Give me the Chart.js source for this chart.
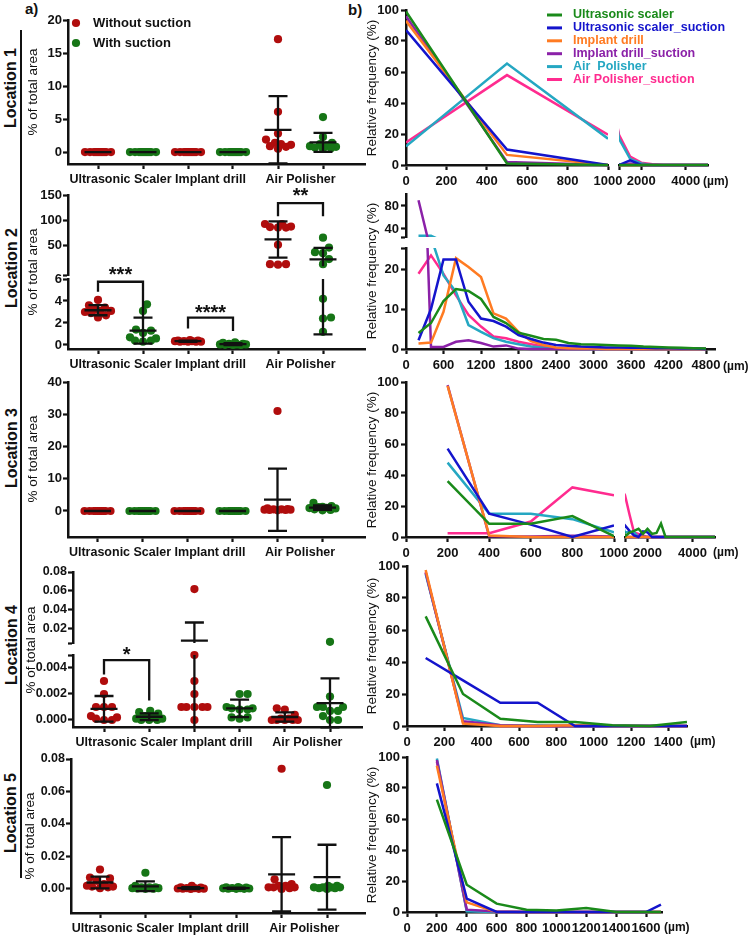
<!DOCTYPE html>
<html><head><meta charset="utf-8">
<script src="https://cdn.jsdelivr.net/npm/chart.js@4.4.1/dist/chart.umd.min.js"></script>
<style>
html,body{margin:0;padding:0;background:#fff;}
#page{position:relative;width:749px;height:937px;overflow:hidden;background:#fff;font-family:"Liberation Sans",Arial,sans-serif;color:#111;}
#page canvas{position:absolute;}
.loc{position:absolute;font-weight:bold;font-size:16px;white-space:nowrap;transform:translate(-50%,-50%) rotate(-90deg);}
.plab{position:absolute;font-weight:bold;font-size:15px;line-height:15px;}
.vline{position:absolute;left:19.5px;top:30px;width:2.5px;height:848px;background:#111;}
</style></head><body><div id="page">
<div class="plab" style="left:25px;top:1px;">a)</div>
<div class="plab" style="left:348px;top:2px;">b)</div>
<div class="vline"></div>
<div class="loc" style="left:11px;top:88px;">Location 1</div>
<div class="loc" style="left:12px;top:268px;">Location 2</div>
<div class="loc" style="left:12px;top:448px;">Location 3</div>
<div class="loc" style="left:12px;top:645px;">Location 4</div>
<div class="loc" style="left:11px;top:813px;">Location 5</div>
</div>
<script>
// ======================= DATA =======================
const instruments = ['Ultrasonic Scaler', 'Implant drill', 'Air Polisher'];
const conditions = ['Without suction', 'With suction'];

// a) % of total area, 10 samples per instrument: [Ultrasonic Scaler, Implant drill, Air Polisher]
const loc1_without = [[0,0,0,0,0,0,0,0,0,0],[0,0,0,0,0,0,0,0,0,0],[17.1,6.1,2.8,1.9,1.4,1.2,1.1,0.9,0.8,0.5]];
const loc1_with    = [[0,0,0,0,0,0,0,0,0,0],[0,0,0,0,0,0,0,0,0,0],[5.3,2.3,1.4,1.2,1.0,0.9,0.8,0.7,0.6,0.5]];
const loc2_without = [[4.1,3.6,3.4,3.2,3.1,3.1,3.0,2.9,2.7,2.5],[0.45,0.4,0.4,0.35,0.35,0.35,0.3,0.3,0.3,0.3],[93,93,88,87,86,86,52,14,14,13]];
const loc2_with    = [[3.7,3.1,1.4,1.3,1.1,0.7,0.6,0.4,0.4,0.3],[0.25,0.2,0.1,0.1,0.05,0.05,0.05,0.02,0.01,0],[66,46.7,37.5,35.6,24,14,4.2,2.5,2.4,1.2]];
const loc3_without = [[0,0,0,0,0,0,0,0,0,0],[0,0,0,0,0,0,0,0,0,0],[31,0.8,0.6,0.5,0.5,0.4,0.4,0.3,0.3,0.2]];
const loc3_with    = [[0,0,0,0,0,0,0,0,0,0],[0,0,0,0,0,0,0,0,0,0],[2.5,1.5,1.3,1.2,1.0,0.9,0.8,0.5,0.3,0.2]];
const loc4_without = [[0.003,0.002,0.001,0.001,0.001,0.0003,0.0002,0.0001,0,0],[0.062,0.005,0.003,0.002,0.001,0.001,0.001,0.001,0.001,0],[0.0009,0.0008,0.0004,0.0001,0.0001,0,0,0,0,0]];
const loc4_with    = [[0.0007,0.0006,0.0005,0.0003,0.0002,0.0001,0.0001,0,0,0],[0.002,0.002,0.001,0.0009,0.0009,0.0008,0.0008,0.0002,0.0002,0.0001],[0.0065,0.0018,0.001,0.001,0.001,0.0007,0.0007,0.0003,0,0]];
const loc5_without = [[0.012,0.007,0.0065,0.005,0.003,0.002,0.0015,0.0015,0.001,0.0005],[0.002,0.001,0.0008,0.0005,0.0005,0.0003,0.0002,0.0002,0.0001,0],[0.074,0.006,0.003,0.002,0.002,0.001,0.001,0.001,0.0005,0]];
const loc5_with    = [[0.01,0.002,0.001,0.001,0.001,0.0005,0.0005,0.0003,0.0002,0.0001],[0.0012,0.001,0.0008,0.0006,0.0005,0.0004,0.0003,0.0002,0.0001,0.0001],[0.064,0.002,0.002,0.001,0.001,0.001,0.001,0.0005,0.0005,0]];

// significance brackets (values in data units)
const loc2_sig = [
  {from:0, to:1, top:5.75, left:4.85, right:2.3, label:'***', at:6.82, seg:1},
  {from:2, to:3, top:2.48, left:1.5, right:1.27, label:'****', at:3.36, seg:1},
  {from:4, to:5, top:134, left:108, right:108, label:'**', at:157, seg:0}
];
const loc4_sig = [{from:0, to:1, top:0.0046, left:0.0035, right:0.0015, label:'*', at:0.0054, seg:1}];

// a) y tick labels
const loc1_yticks = [0,5,10,15,20];
const loc2_yticks_high = [50,100,150];
const loc2_yticks_low = [0,2,4,6];
const loc3_yticks = [0,10,20,30,40];
const loc4_yticks_high = [0.02,0.04,0.06,0.08];
const loc4_yticks_low = [0,0.002,0.004];
const loc5_yticks = [0,0.02,0.04,0.06,0.08];

// b) relative frequency (%) by particle size (µm)
const seriesNames = ['Ultrasonic scaler','Ultrasonic scaler_suction','Implant drill','Implant drill_suction','Air  Polisher','Air Polisher_suction'];

const b1_size = [0,500,1000,1500,2000,2500,3000,3500,4000,4500,5000];
const b1_US  = [99,1,0,0,0,0,0,0,0,0,0];
const b1_USs = [87,10,0,3,0,0,0,0,0,0,0];
const b1_ID  = [93,6.5,0,0,0,0,0,0,0,0,0];
const b1_IDs = [96,2,0,1,0,0,0,0,0,0,0];
const b1_AP  = [12,65.5,17,4,1,0,0,0,0,0,0];
const b1_APs = [14.5,58,19.5,5.5,1.5,0.5,0,0,0,0,0];

const b2_size = [200,400,600,800,1000,1200,1400,1600,1800,2000,2200,2400,2600,2800,3000,3200,3400,3600,3800,4000,4200,4400,4600,4800];
const b2_US  = [4,6.5,12,15,14.5,12.5,8,6.5,4.1,3.3,2.5,2.3,1.5,1.2,1.1,1.0,0.9,0.8,0.6,0.5,0.4,0.3,0.2,0.1];
const b2_USs = [2.2,10,22.4,22.4,11.8,7.6,7,5.6,3.5,2.5,1.6,1,0.8,0.6,0.5,0.4,0.4,0.3,0.3,0.2,0.2,0.1,0.1,0];
const b2_ID  = [1.4,1.6,9.3,22.7,20.5,18,8.9,7.6,4.3,2,1,0.4,0.2,0.1,0.1,0,0,0,0,0,0,0,0,0];
const b2_IDs = [90,0.5,0.5,1.8,2.2,1.5,0.6,0.9,0.1,0,0,0,0,0,0,0,0,0,0,0,0,0,0,0];
const b2_AP  = [28,28,18.4,14.3,6,4.3,2.7,1.8,1.2,0.6,0.3,0.1,0,0,0,0,0,0,0,0,0,0,0,0];
const b2_APs = [18.8,23.4,18.8,13.4,8.5,5.6,3.1,2.7,1.8,1.2,0.6,0.2,0,0,0,0,0,0,0,0,0,0,0,0];

const b3_size = [200,400,600,800,1000,1200,1400,1600,1800,2000,2200,2400,2600,2800,3000,4000,5000];
const b3_US  = [36,8.5,8.5,13.5,0.5,2.8,4,5.3,2,5.3,2,2.6,8.7,0,0,0,0];
const b3_USs = [57,15,8,0,7.5,4,1,0,3.6,3,0,0,0,0,0,0,0];
const b3_ID  = [97.5,1,0,0,0,0,0,0,0,0,0,0,0,0,0,0,0];
const b3_IDs = [98,0.5,0.3,0.8,0.3,0,0,0,0,0,0,0,0,0,0,0,0];
const b3_AP  = [48,15,15,11.5,3,3,3,0,0,0,0,0,0,0,0,0,0];
const b3_APs = [2.5,2.5,10,32,27,14.5,3,2,1,0,0,0,0,0,0,0,0];

const b4_size = [100,300,500,700,900,1100,1300,1500];
const b4_US  = [68.5,20,4.5,2.5,2.5,0.4,0,2.5];
const b4_USs = [42.5,28.5,14.5,14.5,0,0,0,0];
const b4_ID  = [97.5,1.5,0,0,0.5,0,0,0];
const b4_IDs = [96,3,0.5,0,0,0,0,0];
const b4_AP  = [95,5,0.5,0.3,0,0,0,0];
const b4_APs = [96,2.5,0,0,0,0,0,0];

const b5_size = [200,400,600,800,1000,1200,1400,1600,1700];
const b5_US  = [72.5,17.6,5.4,1.5,0.9,2.6,0,0,0];
const b5_USs = [83,8.6,0,0,0,0,0,0,4.7];
const b5_ID  = [94.4,6.2,0,0,0,0,0,0,0];
const b5_IDs = [98,1.5,0.4,0,0,0,0,0,0];
const b5_AP  = [99,0.5,0,0,0,0,0,0,0];
const b5_APs = [97,1,0,0,0,0,0,0,0];

// b) tick labels
const freq_yticks = [0,20,40,60,80,100];
const b1_xticks = [0,200,400,600,800,1000];
const b1_xticks_right = [2000,4000];
const b2_xticks = [0,600,1200,1800,2400,3000,3600,4200,4800];
const b2_yticks_high = [40,80];
const b2_yticks_low = [0,10,20];
const b3_xticks = [0,200,400,600,800,1000];
const b3_xticks_right = [2000,4000];
const b4_xticks = [0,200,400,600,800,1000,1200,1400];
const b5_xticks = [0,200,400,600,800,1000,1200,1400,1600];

// ======================= STYLE / HELPERS =======================
const INK = '#111111';
const FONT = '"Liberation Sans", Arial, sans-serif';
const RED_DOT = '#b00d0d', GREEN_DOT = '#167516';
const DOT_R = 4.1;
const seriesColors = ['#1a8a1a','#1414cc','#ff7b22','#8b21a8','#25a7c2','#ff2b8f'];
const page = document.getElementById('page');
const EXTRAS = new Map();

Chart.defaults.font.family = FONT;
Chart.defaults.color = INK;
Chart.defaults.animation = false;
Chart.defaults.responsive = false;
Chart.defaults.devicePixelRatio = 1;
Chart.defaults.plugins.legend.display = false;
Chart.defaults.plugins.tooltip.enabled = false;

function mkCanvas(r) {
  const c = document.createElement('canvas');
  c.width = r.w; c.height = r.h;
  c.style.left = r.x + 'px'; c.style.top = r.y + 'px';
  c.style.width = r.w + 'px'; c.style.height = r.h + 'px';
  page.appendChild(c);
  return c;
}
function meanSd(a) {
  const n = a.length, m = a.reduce((s, v) => s + v, 0) / n;
  const v = a.reduce((s, x) => s + (x - m) * (x - m), 0) / (n - 1);
  return {mean: m, sd: Math.sqrt(v)};
}
function axis(o) {
  const vals = o.ticks.slice(), blank = o.blank || [];
  return {
    type: 'linear', display: o.display !== false, min: o.min, max: o.max, bounds: 'data',
    afterBuildTicks: s => { s.ticks = vals.map(v => ({value: v})); },
    afterFit: s => {
      if (o.horizontal) s.height = o.size; else s.width = o.size;
      s.paddingLeft = s.paddingRight = s.paddingTop = s.paddingBottom = 0;
    },
    ticks: {autoSkip: false, maxRotation: 0, minRotation: 0, padding: o.pad, color: INK,
      font: {family: FONT, size: o.fontSize || 13, weight: 'bold'},
      callback: v => blank.includes(v) ? '' : o.fmt(v)},
    grid: {display: true, drawOnChartArea: false, drawTicks: true, tickLength: 5, tickWidth: 2.2,
      tickColor: o.tickColor || INK, color: INK},
    border: {display: true, color: INK, width: 2.5}
  };
}

const extrasPlugin = {
  id: 'extras',
  afterDatasetsDraw(chart) {
    const o = EXTRAS.get(chart.canvas); if (!o) return;
    const ctx = chart.ctx, xs = chart.scales.x, ys = chart.scales.y, ca = chart.chartArea;
    ctx.save();
    ctx.strokeStyle = INK; ctx.lineWidth = 2.3; ctx.lineJoin = 'miter'; ctx.lineCap = 'butt';
    if (o.stats) {
      ctx.save();
      const top = o.breakTop ? ca.top : ca.top - 1.5;
      let bottom = o.breakBottom ? ca.bottom : ca.bottom + 1.5;
      if (o.clipMin !== undefined) bottom = Math.min(bottom, ys.getPixelForValue(o.clipMin) - 2);
      ctx.beginPath(); ctx.rect(ca.left - 30, top, ca.right - ca.left + 60, bottom - top); ctx.clip();
      for (const s of o.stats) {
        const cx = xs.getPixelForValue(s.pos);
        const ym = ys.getPixelForValue(s.mean), yt = ys.getPixelForValue(s.mean + s.sd), yb = ys.getPixelForValue(s.mean - s.sd);
        ctx.beginPath();
        ctx.moveTo(cx - o.meanHalf, ym); ctx.lineTo(cx + o.meanHalf, ym);
        ctx.moveTo(cx, yt); ctx.lineTo(cx, yb);
        ctx.moveTo(cx - o.capHalf, yt); ctx.lineTo(cx + o.capHalf, yt);
        ctx.moveTo(cx - o.capHalf, yb); ctx.lineTo(cx + o.capHalf, yb);
        ctx.stroke();
      }
      ctx.restore();
    }
    for (const b of (o.brackets || [])) {
      const x1 = xs.getPixelForValue(b.from), x2 = xs.getPixelForValue(b.to), yt = ys.getPixelForValue(b.top);
      ctx.beginPath();
      ctx.moveTo(x1, ys.getPixelForValue(b.left)); ctx.lineTo(x1, yt); ctx.lineTo(x2, yt); ctx.lineTo(x2, ys.getPixelForValue(b.right));
      ctx.stroke();
      ctx.fillStyle = INK; ctx.font = 'bold 20px ' + FONT; ctx.textAlign = 'center'; ctx.textBaseline = 'alphabetic';
      ctx.fillText(b.label, (x1 + x2) / 2, ys.getPixelForValue(b.at) + 11);
    }
    ctx.restore();
  },
  afterDraw(chart) {
    const o = EXTRAS.get(chart.canvas); if (!o) return;
    const ctx = chart.ctx;
    for (const t of (o.texts || [])) {
      ctx.save();
      ctx.font = t.font; ctx.fillStyle = t.color || INK;
      ctx.textAlign = t.align || 'center'; ctx.textBaseline = t.baseline || 'middle';
      ctx.translate(t.x - o.ox, t.y - o.oy); if (t.rot) ctx.rotate(t.rot);
      ctx.fillText(t.t, 0, 0);
      ctx.restore();
    }
    for (const d of (o.dots || [])) {
      ctx.save();
      ctx.fillStyle = d.color; ctx.beginPath(); ctx.arc(d.x - o.ox, d.y - o.oy, DOT_R, 0, Math.PI * 2); ctx.fill();
      ctx.fillStyle = INK; ctx.font = 'bold 13px ' + FONT; ctx.textAlign = 'left'; ctx.textBaseline = 'middle';
      ctx.fillText(d.text, d.tx - o.ox, d.y - o.oy);
      ctx.restore();
    }
    for (const l of (o.lines || [])) {
      ctx.save();
      ctx.strokeStyle = l.color; ctx.lineWidth = 3; ctx.beginPath();
      ctx.moveTo(l.x1 - o.ox, l.y - o.oy); ctx.lineTo(l.x2 - o.ox, l.y - o.oy); ctx.stroke();
      ctx.fillStyle = l.color; ctx.font = 'bold 12.5px ' + FONT; ctx.textAlign = 'left'; ctx.textBaseline = 'middle';
      ctx.fillText(l.text, l.tx - o.ox, l.y - o.oy);
      ctx.restore();
    }
  }
};
Chart.register(extrasPlugin);

function swarm(chart) {
  const xs = chart.scales.x, ys = chart.scales.y;
  const unit = xs.getPixelForValue(1) - xs.getPixelForValue(0);
  const D = 7.6, LIM = 13;
  chart.data.datasets.forEach((ds, gi) => {
    const placed = [];
    const idx = ds.data.map((_, i) => i).sort((a, b) => ds.data[a].y - ds.data[b].y);
    for (const i of idx) {
      const py = ys.getPixelForValue(ds.data[i].y);
      let best = 0, bestD = -1, done = false;
      for (let k = 0; k <= LIM && !done; k++) {
        for (const off of (k ? [k, -k] : [0])) {
          let md = Infinity;
          for (const q of placed) md = Math.min(md, Math.hypot(q.x - off, q.y - py));
          if (md >= D) { best = off; done = true; break; }
          if (md > bestD) { bestD = md; best = off; }
        }
      }
      placed.push({x: best, y: py});
      ds.data[i].x = gi + best / unit;
    }
  });
  chart.update('none');
}

// ======================= PANEL a) =======================
function scatterPanel(p) {
  const groups = [p.without[0], p.with[0], p.without[1], p.with[1], p.without[2], p.with[2]];
  const stats = groups.map((g, gi) => Object.assign({pos: gi}, meanSd(g)));
  p.segs.forEach((seg, si) => {
    const r = p.rect, a = seg.area;
    const YW = 40, XH = seg.showX ? 24 : 0;
    const xMin = -(p.g0 - a.l) / p.sp, xMax = (a.r - p.g0) / p.sp;
    const canvas = mkCanvas(r);
    const lo = seg.clipMin !== undefined ? seg.clipMin : seg.yMin;
    const cfg = {ox: r.x, oy: r.y, stats, meanHalf: 13.5, capHalf: 9.5,
      breakTop: !!seg.breakTop, breakBottom: !!seg.breakBottom, clipMin: seg.clipMin,
      brackets: (p.sig || []).filter(b => b.seg === si), texts: [], dots: []};
    if (seg.showX) cfg.texts.push({t: '% of total area', x: p.title.x, y: p.title.y, font: '13.5px ' + FONT, rot: -Math.PI / 2});
    if (p.legend && si === 0) {
      cfg.dots.push({x: 76, y: 23, tx: 93, color: RED_DOT, text: conditions[0]});
      cfg.dots.push({x: 76, y: 43, tx: 93, color: GREEN_DOT, text: conditions[1]});
    }
    EXTRAS.set(canvas, cfg);
    const datasets = groups.map((g, gi) => ({
      data: g.filter(v => v >= lo && v <= seg.yMax).map(v => ({x: gi, y: v})),
      backgroundColor: gi % 2 ? GREEN_DOT : RED_DOT, borderWidth: 0,
      pointRadius: DOT_R, pointHoverRadius: DOT_R, pointBorderWidth: 0, clip: 6
    }));
    const blankY = [];
    const yt = seg.ticks.slice();
    if (seg.edge === 'min') { yt.unshift(seg.yMin); blankY.push(seg.yMin); }
    if (seg.edge === 'max') { yt.push(seg.yMax); blankY.push(seg.yMax); }
    const chart = new Chart(canvas, {
      type: 'scatter',
      data: {datasets},
      options: {
        layout: {padding: {left: a.l - r.x - YW, right: r.x + r.w - a.r, top: a.t - r.y, bottom: r.y + r.h - a.b - XH}},
        scales: {
          x: axis({display: seg.showX, min: xMin, max: xMax, horizontal: true, size: XH, pad: 3, fontSize: 12.5,
            ticks: [0, 0.5, 1, 2, 2.5, 3, 4, 4.5, 5],
            fmt: v => v === 0.5 ? instruments[0] : v === 2.5 ? instruments[1] : v === 4.5 ? instruments[2] : '',
            tickColor: c => (c.tick && Number.isInteger(c.tick.value)) ? INK : 'rgba(0,0,0,0)'}),
          y: axis({min: seg.yMin, max: seg.yMax, size: YW, pad: 1, fontSize: p.yFont || 13,
            ticks: yt, blank: blankY, fmt: v => v.toFixed(seg.dec)})
        }
      }
    });
    swarm(chart);
  });
}

scatterPanel({rect: {x: 0, y: 0, w: 372, h: 195}, g0: 98, sp: 45, without: loc1_without, with: loc1_with,
  title: {x: 33, y: 92}, legend: true,
  segs: [{area: {l: 68, r: 365, t: 20, b: 164}, yMin: -1.8, yMax: 20, ticks: loc1_yticks, dec: 0, showX: true}]});

scatterPanel({rect: {x: 0, y: 180, w: 372, h: 195}, g0: 98, sp: 45, without: loc2_without, with: loc2_with,
  title: {x: 33, y: 272}, sig: loc2_sig,
  segs: [
    {area: {l: 68, r: 365, t: 195, b: 275}, yMin: -7.3, yMax: 150, clipMin: 6, ticks: loc2_yticks_high, edge: 'min', dec: 0, showX: false, breakBottom: true},
    {area: {l: 68, r: 365, t: 279, b: 349}, yMin: -0.364, yMax: 6, ticks: loc2_yticks_low, dec: 0, showX: true, breakTop: true}
  ]});

scatterPanel({rect: {x: 0, y: 365, w: 372, h: 195}, g0: 97.5, sp: 45, without: loc3_without, with: loc3_with,
  title: {x: 33, y: 459},
  segs: [{area: {l: 68, r: 365, t: 382, b: 537}, yMin: -8.07, yMax: 40, ticks: loc3_yticks, dec: 0, showX: true}]});

scatterPanel({rect: {x: 0, y: 555, w: 372, h: 200}, g0: 104, sp: 45.2, without: loc4_without, with: loc4_with,
  title: {x: 31, y: 650}, sig: loc4_sig, yFont: 12.5,
  segs: [
    {area: {l: 73, r: 362, t: 572, b: 643}, yMin: 0.00526, yMax: 0.08, ticks: loc4_yticks_high, edge: 'min', dec: 2, showX: false, breakBottom: true},
    {area: {l: 73, r: 362, t: 655, b: 727}, yMin: -0.00054, yMax: 0.005, ticks: loc4_yticks_low, edge: 'max', dec: 3, showX: true, breakTop: true}
  ]});

scatterPanel({rect: {x: 0, y: 745, w: 372, h: 192}, g0: 100, sp: 45.4, without: loc5_without, with: loc5_with,
  title: {x: 30, y: 836}, yFont: 12.5,
  segs: [{area: {l: 71, r: 365, t: 759, b: 913}, yMin: -0.01477, yMax: 0.08, ticks: loc5_yticks, dec: 2, showX: true}]});

// ======================= PANEL b) =======================
function freqPanel(p) {
  p.parts.forEach(part => {
    const r = part.rect, a = part.area;
    const YW = part.showY ? 30 : 0, XH = part.showX ? 24 : 0;
    const canvas = mkCanvas(r);
    const cfg = {ox: r.x, oy: r.y, texts: [], lines: []};
    if (part.main) {
      cfg.texts.push({t: 'Relative frequency (%)', x: p.title.x, y: p.title.y, font: '13.5px ' + FONT, rot: -Math.PI / 2});
      cfg.texts.push({t: '(\u00b5m)', x: p.unit.x, y: p.unit.y, font: 'bold 12px ' + FONT, align: 'left'});
      if (p.legend) seriesNames.forEach((n, i) => cfg.lines.push({x1: 547, x2: 562, tx: 573, y: 15 + i * 12.9, color: seriesColors[i], text: n}));
    }
    EXTRAS.set(canvas, cfg);
    const clip = {left: 0, right: 0, top: part.breakTop ? 0 : 1, bottom: part.breakBottom ? 0 : 3};
    const datasets = p.series.map((s, i) => ({
      label: seriesNames[i],
      data: p.size.map((x, k) => ({x, y: s[k]})),
      borderColor: seriesColors[i], backgroundColor: seriesColors[i],
      borderWidth: 2.5, pointRadius: 0, tension: 0, fill: false, clip
    }));
    const xt = part.xTicks.slice(), xb = [];
    if (part.xEdge === 'min') { xt.unshift(part.xMin); xb.push(part.xMin); }
    const yt = part.yTicks.slice(), yb = [];
    if (part.yEdge === 'min') { yt.unshift(part.yMin); yb.push(part.yMin); }
    if (part.yEdge === 'max') { yt.push(part.yMax); yb.push(part.yMax); }
    new Chart(canvas, {
      type: 'line',
      data: {datasets},
      options: {
        layout: {padding: {left: a.l - r.x - YW, right: r.x + r.w - a.r, top: a.t - r.y, bottom: r.y + r.h - a.b - XH}},
        scales: {
          x: axis({display: part.showX, min: part.xMin, max: part.xMax, horizontal: true, size: XH, pad: 4, fontSize: 13,
            ticks: xt, blank: xb, fmt: v => String(v)}),
          y: axis({display: part.showY, min: part.yMin, max: part.yMax, size: YW, pad: 2, fontSize: 13,
            ticks: yt, blank: yb, fmt: v => String(v)})
        }
      }
    });
  });
}

freqPanel({size: b1_size, series: [b1_US, b1_USs, b1_ID, b1_IDs, b1_AP, b1_APs],
  title: {x: 372, y: 88}, unit: {x: 703, y: 182}, legend: true,
  parts: [
    {main: true, rect: {x: 360, y: 0, w: 389, h: 195}, area: {l: 406, r: 608, t: 10, b: 165},
      xMin: 0, xMax: 1000, xTicks: b1_xticks, showX: true, showY: true, yMin: 0, yMax: 100, yTicks: freq_yticks},
    {rect: {x: 600, y: 0, w: 149, h: 195}, area: {l: 619, r: 708, t: 10, b: 165},
      xMin: 1000, xMax: 5000, xTicks: b1_xticks_right, xEdge: 'min', showX: true, showY: false, yMin: 0, yMax: 100, yTicks: freq_yticks}
  ]});

freqPanel({size: b2_size, series: [b2_US, b2_USs, b2_ID, b2_IDs, b2_AP, b2_APs],
  title: {x: 372, y: 271}, unit: {x: 723, y: 367},
  parts: [
    {rect: {x: 360, y: 185, w: 389, h: 190}, area: {l: 406, r: 715, t: 194, b: 237}, breakBottom: true,
      xMin: 0, xMax: 4944, xTicks: b2_xticks, showX: false, showY: true, yMin: 26, yMax: 100.9, yTicks: b2_yticks_high, yEdge: 'min'},
    {main: true, rect: {x: 360, y: 185, w: 389, h: 190}, area: {l: 406, r: 715, t: 248, b: 349}, breakTop: true,
      xMin: 0, xMax: 4944, xTicks: b2_xticks, showX: true, showY: true, yMin: 0, yMax: 25.25, yTicks: b2_yticks_low, yEdge: 'max'}
  ]});

freqPanel({size: b3_size, series: [b3_US, b3_USs, b3_ID, b3_IDs, b3_AP, b3_APs],
  title: {x: 372, y: 460}, unit: {x: 713, y: 553},
  parts: [
    {main: true, rect: {x: 360, y: 370, w: 389, h: 190}, area: {l: 406, r: 614, t: 382, b: 537},
      xMin: 0, xMax: 1000, xTicks: b3_xticks, showX: true, showY: true, yMin: 0, yMax: 100, yTicks: freq_yticks},
    {rect: {x: 610, y: 370, w: 139, h: 190}, area: {l: 625, r: 715, t: 382, b: 537},
      xMin: 1000, xMax: 5000, xTicks: b3_xticks_right, xEdge: 'min', showX: true, showY: false, yMin: 0, yMax: 100, yTicks: freq_yticks}
  ]});

freqPanel({size: b4_size, series: [b4_US, b4_USs, b4_ID, b4_IDs, b4_AP, b4_APs],
  title: {x: 372, y: 646}, unit: {x: 690, y: 742},
  parts: [
    {main: true, rect: {x: 360, y: 555, w: 389, h: 200}, area: {l: 407, r: 687, t: 566, b: 726},
      xMin: 0, xMax: 1500, xTicks: b4_xticks, showX: true, showY: true, yMin: 0, yMax: 100, yTicks: freq_yticks}
  ]});

freqPanel({size: b5_size, series: [b5_US, b5_USs, b5_ID, b5_IDs, b5_AP, b5_APs],
  title: {x: 372, y: 835}, unit: {x: 664, y: 928},
  parts: [
    {main: true, rect: {x: 360, y: 745, w: 389, h: 192}, area: {l: 407, r: 662, t: 757, b: 912},
      xMin: 0, xMax: 1707, xTicks: b5_xticks, showX: true, showY: true, yMin: 0, yMax: 100, yTicks: freq_yticks}
  ]});
</script></body></html>
